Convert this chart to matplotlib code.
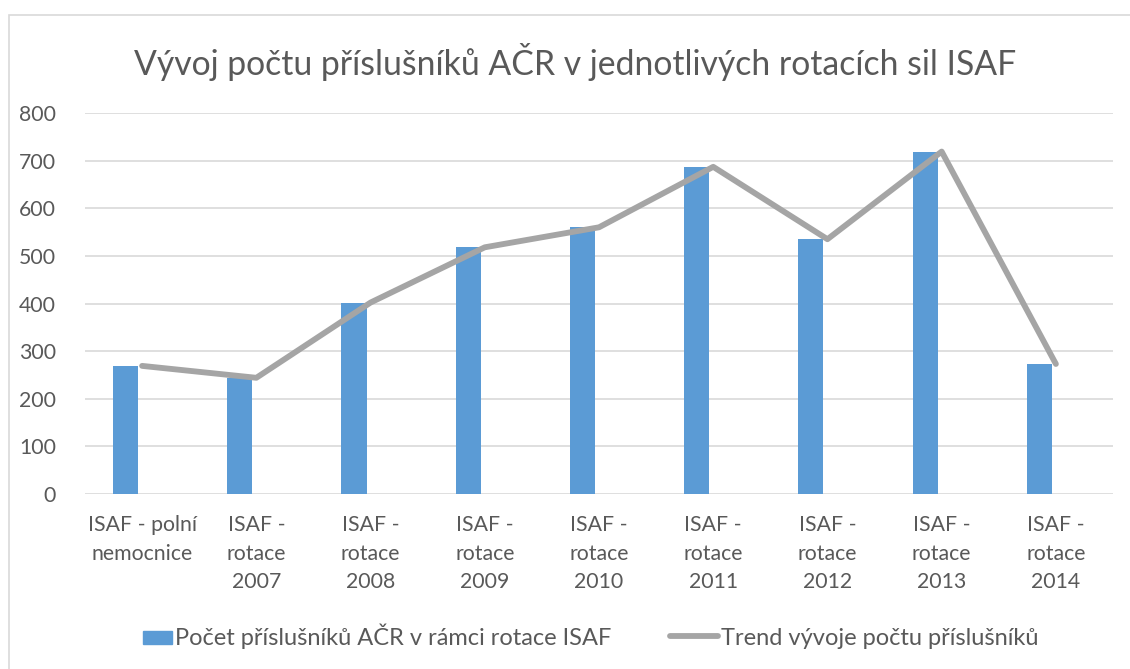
import matplotlib
matplotlib.use("Agg")
import matplotlib.pyplot as plt
import numpy as np
from matplotlib.patches import Rectangle
from matplotlib.lines import Line2D
from matplotlib.legend_handler import HandlerPatch

categories = ["ISAF - polní\nnemocnice", "ISAF -\nrotace\n2007", "ISAF -\nrotace\n2008",
              "ISAF -\nrotace\n2009", "ISAF -\nrotace\n2010", "ISAF -\nrotace\n2011",
              "ISAF -\nrotace\n2012", "ISAF -\nrotace\n2013", "ISAF -\nrotace\n2014"]
counts = [269, 244, 402, 518, 560, 687, 535, 719, 273]
trend = [269, 244, 402, 518, 560, 687, 535, 719, 273]
yticks = [0, 100, 200, 300, 400, 500, 600, 700, 800]
title = "Vývoj počtu příslušníků AČR v jednotlivých rotacích sil ISAF"
bar_label = "Počet příslušníků AČR v rámci rotace ISAF"
line_label = "Trend vývoje počtu příslušníků"

plt.rcParams['font.family'] = ['Lato', 'DejaVu Sans']
txt = "#595959"

fig = plt.figure(figsize=(11.3, 6.69), dpi=100)
ax = fig.add_axes([85/1130, 1-494/669, (1113-85)/1130, (494-113)/669])

x = np.arange(len(categories))
ax.bar(x - 0.145, counts, width=0.22, color="#5B9BD5", zorder=2)
ax.plot(x, trend, color="#A5A5A5", lw=4.2, solid_capstyle="round", solid_joinstyle="round", zorder=3)

ax.set_xlim(-0.5, len(categories) - 0.5)
ax.set_ylim(0, 800)
ax.set_yticks(yticks)
ax.set_yticklabels([str(v) for v in yticks])
ax.set_xticks(x)
ax.set_xticklabels(categories, linespacing=1.55)
ax.tick_params(axis='both', length=0, labelsize=15.3, colors=txt)
ax.tick_params(axis='x', pad=15)
ax.tick_params(axis='y', pad=21)
ax.grid(axis='y', color="#D9D9D9", lw=1.2, zorder=0)
ax.set_axisbelow(True)
for s in ax.spines.values():
    s.set_visible(False)

fig.text(575/1130, 1-62/669, title, ha='center', va='center', fontsize=24.3, color=txt)

# chart border (top/left visible)
fig.add_artist(Rectangle((9/1130, -0.05), 1.2, 1-15/669+0.05, transform=fig.transFigure,
                         fill=False, ec="#D9D9D9", lw=1.2))


def small_patch(legend, orig_handle, xdescent, ydescent, width, height, fontsize):
    w = width * 0.6
    return Rectangle((width - w - xdescent, -ydescent + height * 0.05), w, height * 0.8)


handles = [Rectangle((0, 0), 1, 1, color="#5B9BD5"),
           Line2D([0], [0], color="#A5A5A5", lw=4.2, solid_capstyle="round")]
leg = fig.legend(handles, [bar_label, line_label], loc='center', bbox_to_anchor=(581/1130, 1-636/669),
                 ncol=2, frameon=False, fontsize=17, handlelength=2.05, handletextpad=0.1,
                 columnspacing=2.5, labelcolor=txt,
                 handler_map={Rectangle: HandlerPatch(patch_func=small_patch)})

fig.savefig("out.png", dpi=100)
